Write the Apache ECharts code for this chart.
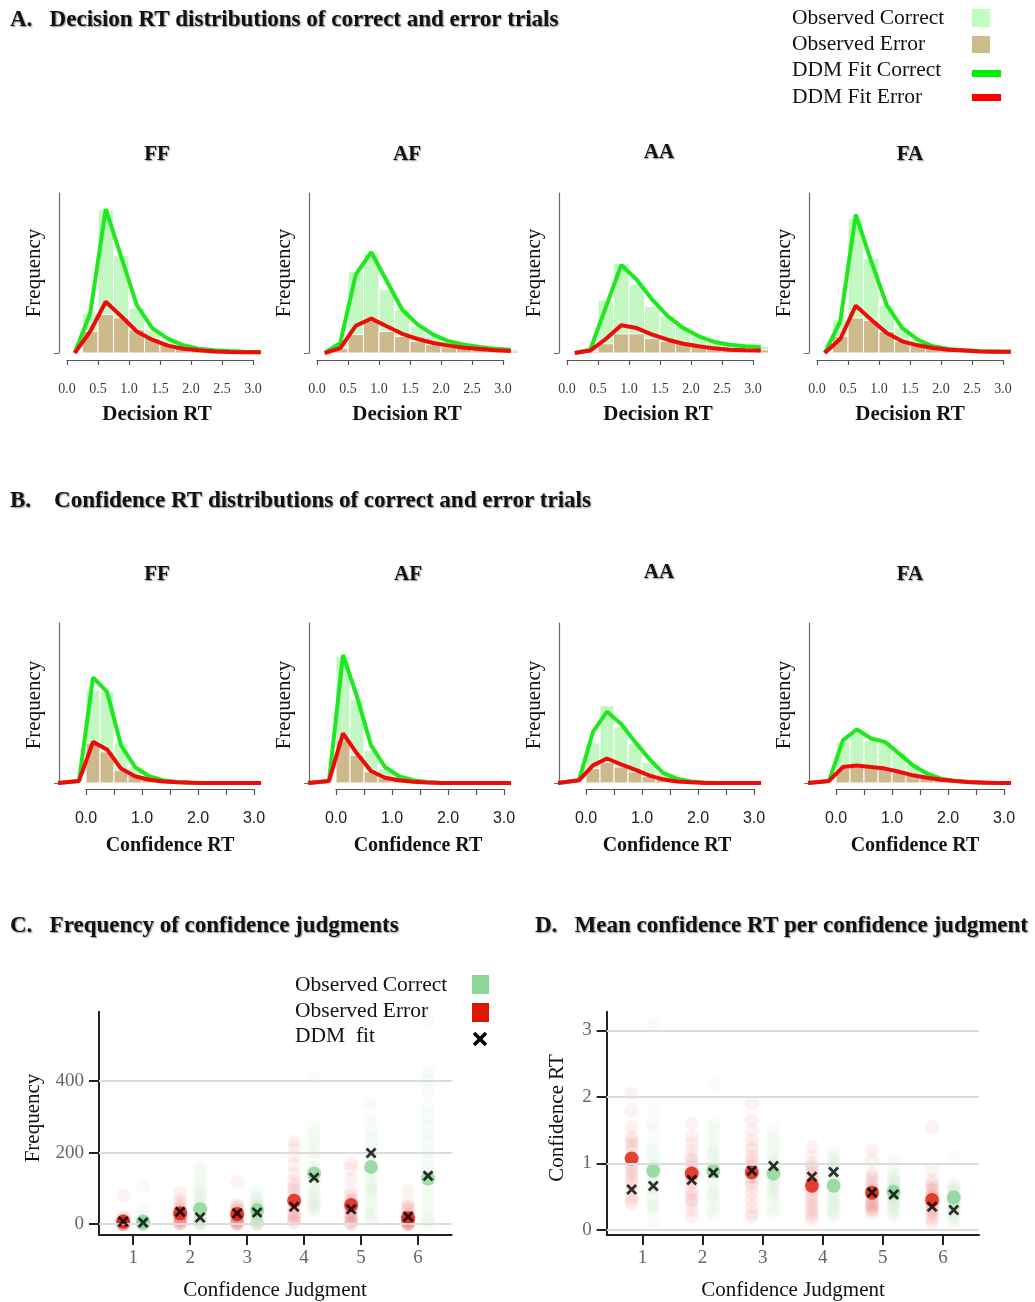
<!DOCTYPE html>
<html><head><meta charset="utf-8">
<script src="https://cdn.jsdelivr.net/npm/echarts@6/dist/echarts.min.js"></script>
<style>html,body{margin:0;padding:0;background:#fff}#c{width:1035px;height:1302px}</style>
</head><body><div id="c"></div><script>
// ---------- categories / ticks ----------
const conditions = ['FF', 'AF', 'AA', 'FA'];
const binEdges = [0, 0.25, 0.5, 0.75, 1, 1.25, 1.5, 1.75, 2, 2.25, 2.5, 2.75, 3, 3.25];
const decFitX = [0.125, 0.375, 0.625, 0.875, 1.125, 1.375, 1.625, 1.875, 2.125, 2.375, 2.625, 2.875, 3.125];
const confFitX = [-0.5, -0.125, 0.125, 0.375, 0.625, 0.875, 1.125, 1.375, 1.625, 1.875, 2.125, 2.375, 2.625, 2.875, 3.125];
const rtTicks = [0, 0.5, 1, 1.5, 2, 2.5, 3];
const judgments = [1, 2, 3, 4, 5, 6];
const freqTicks = [0, 200, 400];
const confRtTicks = [0, 1, 2, 3];

// ---------- A: decision RT (relative frequency) ----------
const decObsCorrect_FF = [1, 25, 89.6, 60.8, 28, 14.6, 8, 4.5, 2.5, 1.5, 1, 0.5, 0.3];
const decObsError_FF   = [0.5, 13.5, 24, 22, 14.6, 9, 5, 3, 2, 1, 0.5, 0.3, 0.2];
const decFitCorrect_FF = [0, 25, 90, 60, 30, 15.6, 9, 4.8, 2.7, 1.7, 1.2, 0.8, 0.5];
const decFitError_FF   = [0, 13.5, 32, 23, 13.5, 8.3, 4.6, 2.7, 1.7, 1, 0.7, 0.5, 0.4];

const decObsCorrect_AF = [0.5, 5.8, 51, 62.5, 39.6, 27, 16.7, 10.4, 7.3, 5.2, 4.2, 3.1, 2];
const decObsError_AF   = [0.3, 3, 11.5, 19.8, 13.5, 10.4, 7.3, 5.2, 3.75, 2.9, 2, 1.7, 1.2];
const decFitCorrect_AF = [0, 6.25, 49, 63, 45, 27, 17.7, 11.5, 7.3, 5.2, 3.75, 2.7, 2];
const decFitError_AF   = [0, 3, 17, 21.5, 16.7, 12, 8.75, 6.25, 4.6, 3.3, 2.5, 1.7, 1.25];

const decObsCorrect_AA = [0.3, 2, 33, 56, 43, 29, 23, 16, 10.4, 7.3, 5.8, 4.6, 4.2];
const decObsError_AA   = [0.2, 1, 5.8, 12, 12, 9, 7.3, 5.8, 4.6, 3.75, 2.9, 2.5, 2];
const decFitCorrect_AA = [0, 2, 28.5, 55, 45.8, 33.3, 23, 15.6, 10.4, 6.9, 5.2, 4.2, 3.75];
const decFitError_AA   = [0, 1.5, 8.75, 17.3, 15.6, 11.5, 8.3, 5.8, 4.2, 2.9, 2, 1.7, 1.5];

const decObsCorrect_FA = [0.5, 20.8, 84, 59, 30, 15.6, 8.75, 5.2, 3.1, 2, 1.5, 1, 0.8];
const decObsError_FA   = [0.3, 10.4, 21.9, 20.4, 13.5, 7.3, 4.6, 3.1, 2, 1.5, 1, 0.8, 0.6];
const decFitCorrect_FA = [0, 19.8, 86.5, 57.3, 30, 15.6, 8.3, 4.2, 2.5, 1.7, 1.2, 1, 0.8];
const decFitError_FA   = [0, 8.75, 29.6, 20.8, 12.5, 7.3, 4.8, 3.1, 2, 1.5, 1, 0.8, 0.8];

// ---------- B: confidence RT (relative frequency) ----------
const confObsCorrect_FF = [58, 57, 24.7, 10, 4.8, 2, 1, 0.5, 0.3, 0.2, 0.1, 0.1, 0.1];
const confObsError_FF   = [25, 19.5, 8, 4.8, 2.7, 1.7, 1, 0.5, 0.3, 0.2, 0.1, 0.1, 0.1];
const confFitCorrect_FF = [0, 1.3, 66, 57, 23.6, 10, 4.2, 1.7, 0.6, 0.3, 0, 0, 0, 0, 0];
const confFitError_FF   = [0, 1.3, 25.7, 21, 9, 4.2, 2, 1, 0.5, 0.2, 0, 0, 0, 0, 0];

const confObsCorrect_AF = [79, 52, 20.5, 9, 3.8, 1.7, 0.8, 0.3, 0.2, 0.1, 0.1, 0.1, 0.1];
const confObsError_AF   = [26.8, 17.4, 7, 3.3, 1.7, 0.8, 0.4, 0.2, 0.1, 0.1, 0.1, 0.1, 0.1];
const confFitCorrect_AF = [0, 1.3, 80, 54, 23.6, 10, 4.2, 1.7, 0.6, 0.2, 0, 0, 0, 0, 0];
const confFitError_AF   = [0, 1.3, 31, 18.4, 7.5, 3.3, 1.7, 0.8, 0.3, 0, 0, 0, 0, 0, 0];

const confObsCorrect_AA = [25, 48.3, 35, 24.7, 13, 5.9, 2.7, 1.3, 0.5, 0.3, 0.2, 0.1, 0.1];
const confObsError_AA   = [9, 13, 10, 7, 4.2, 2.3, 1.3, 0.5, 0.3, 0.2, 0.1, 0.1, 0.1];
const confFitCorrect_AA = [0, 1.7, 32, 44.6, 37, 25.7, 15.3, 6.3, 2.7, 1, 0.3, 0, 0, 0, 0];
const confFitError_AA   = [0, 1.7, 11, 15.3, 11.7, 8.4, 4.8, 2.3, 1, 0.4, 0, 0, 0, 0, 0];

const confObsCorrect_FA = [25.7, 31, 26.8, 25.7, 19.5, 12, 7, 3.3, 1.7, 0.8, 0.3, 0.2, 0.1];
const confObsError_FA   = [9, 10, 9.6, 8.4, 6.5, 4.8, 3.3, 2.3, 1.3, 0.6, 0.3, 0.2, 0.1];
const confFitCorrect_FA = [0, 1.3, 26.8, 33.5, 27.8, 25.7, 18.4, 11, 5.9, 2.7, 1.3, 0.5, 0, 0, 0];
const confFitError_FA   = [0, 1.3, 10, 11, 10, 9, 7, 4.8, 3.3, 2, 1.3, 0.6, 0.3, 0, 0];

// ---------- C: frequency of confidence judgments ----------
const freqMeanCorrect = [7, 41.7, 39.8, 141.7, 160, 127.8];
const freqMeanError   = [7.4, 30.5, 28.7, 65.7, 53.7, 16.7];
const freqFitCorrect  = [4.6, 18.5, 33, 130, 199, 135];
const freqFitError    = [7.4, 35, 30.5, 49, 41.7, 21.3];
const freqSubjError_1 = [80, 20, 15, 10, 8, 5, 3, 2, 0, 0, 1, 4, 12, 6, 0, 2, 9, 3, 0, 1];
const freqSubjError_2 = [85, 70, 60, 50, 45, 40, 35, 30, 28, 25, 20, 18, 15, 12, 10, 8, 5, 3, 2, 0];
const freqSubjError_3 = [118, 55, 50, 45, 40, 35, 30, 28, 25, 22, 20, 15, 12, 10, 8, 5, 3, 2, 0, 0];
const freqSubjError_4 = [230, 215, 190, 165, 140, 120, 110, 100, 90, 80, 70, 60, 50, 40, 30, 25, 20, 15, 10, 5];
const freqSubjError_5 = [170, 155, 125, 90, 80, 70, 65, 60, 50, 45, 40, 35, 30, 25, 20, 15, 10, 5, 2, 0];
const freqSubjError_6 = [95, 60, 50, 45, 40, 30, 25, 20, 18, 15, 12, 10, 8, 5, 3, 2, 0, 0, 1, 4];
const freqSubjCorrect_1 = [105, 40, 20, 10, 5, 2, 0, 0, 1, 3, 8, 4, 0, 2, 6, 1, 0, 12, 3, 0];
const freqSubjCorrect_2 = [160, 140, 120, 100, 90, 80, 70, 60, 50, 45, 40, 30, 25, 20, 15, 10, 5, 2, 0, 0];
const freqSubjCorrect_3 = [95, 80, 70, 60, 55, 50, 45, 40, 35, 30, 25, 20, 15, 10, 8, 5, 3, 0, 0, 0];
const freqSubjCorrect_4 = [410, 275, 255, 235, 220, 200, 180, 160, 150, 140, 130, 120, 100, 90, 80, 70, 60, 50, 45, 40];
const freqSubjCorrect_5 = [335, 290, 260, 240, 220, 200, 180, 160, 150, 140, 120, 110, 100, 90, 80, 60, 45, 30, 20, 10];
const freqSubjCorrect_6 = [565, 425, 400, 370, 330, 300, 270, 250, 230, 200, 180, 150, 120, 100, 80, 60, 40, 20, 10, 0];

// ---------- D: mean confidence RT per judgment ----------
const rtMeanCorrect = [0.89, 0.89, 0.85, 0.665, 0.575, 0.49];
const rtMeanError   = [1.075, 0.85, 0.865, 0.665, 0.56, 0.45];
const rtFitCorrect  = [0.66, 0.86, 0.96, 0.87, 0.535, 0.3];
const rtFitError    = [0.61, 0.75, 0.89, 0.8, 0.565, 0.35];
const rtSubjError_1 = [2.05, 1.8, 1.55, 1.4, 1.3, 1.2, 1.1, 1.0, 0.95, 0.9, 0.8, 0.7, 0.6, 0.5, 0.4, 1.35, 1.25, 0.85, 0.75, 0.45];
const rtSubjError_2 = [1.6, 1.4, 1.3, 1.2, 1.1, 1.0, 0.95, 0.9, 0.85, 0.8, 0.7, 0.6, 0.5, 0.45, 0.4, 0.3, 0.2, 0.75, 1.05, 0.55];
const rtSubjError_3 = [1.9, 1.65, 1.5, 1.35, 1.2, 1.1, 1.05, 1.0, 0.95, 0.9, 0.8, 0.7, 0.65, 0.55, 0.45, 0.35, 0.25, 0.2, 1.25, 0.75];
const rtSubjError_4 = [1.25, 1.1, 1.0, 0.95, 0.9, 0.85, 0.8, 0.75, 0.7, 0.65, 0.6, 0.55, 0.5, 0.45, 0.4, 0.35, 0.3, 0.25, 0.2, 0.15];
const rtSubjError_5 = [1.2, 1.05, 0.85, 0.8, 0.75, 0.7, 0.65, 0.6, 0.55, 0.5, 0.5, 0.45, 0.4, 0.4, 0.35, 0.35, 0.3, 0.3, 0.25, 0.6];
const rtSubjError_6 = [1.55, 0.9, 0.75, 0.7, 0.65, 0.6, 0.55, 0.5, 0.45, 0.4, 0.35, 0.3, 0.25, 0.2, 0.15, 0.1, 0.5, 0.4, 0.3, 0.6];
const rtSubjCorrect_1 = [3.1, 1.8, 1.6, 1.5, 1.3, 1.1, 1.0, 0.9, 0.8, 0.7, 0.6, 0.5, 0.4, 0.3, 0.1, 0.95, 0.85, 1.2, 0.65, 0.35];
const rtSubjCorrect_2 = [2.2, 1.6, 1.5, 1.4, 1.3, 1.2, 1.1, 1.0, 0.9, 0.8, 0.7, 0.6, 0.5, 0.4, 0.3, 0.25, 0.95, 0.85, 1.15, 0.55];
const rtSubjCorrect_3 = [1.5, 1.4, 1.3, 1.2, 1.1, 1.0, 0.9, 0.85, 0.8, 0.75, 0.7, 0.6, 0.5, 0.4, 0.3, 0.25, 0.95, 1.05, 0.65, 0.55];
const rtSubjCorrect_4 = [1.2, 1.1, 1.0, 0.95, 0.9, 0.8, 0.75, 0.7, 0.65, 0.6, 0.55, 0.5, 0.45, 0.4, 0.35, 0.3, 0.25, 0.2, 0.85, 1.05];
const rtSubjCorrect_5 = [1.05, 0.95, 0.85, 0.8, 0.75, 0.7, 0.65, 0.6, 0.55, 0.5, 0.45, 0.4, 0.35, 0.3, 0.25, 0.2, 0.6, 0.5, 0.7, 0.4];
const rtSubjCorrect_6 = [1.1, 0.7, 0.65, 0.6, 0.55, 0.5, 0.45, 0.4, 0.35, 0.3, 0.25, 0.2, 0.15, 0.1, 0.6, 0.5, 0.4, 0.3, 0.35, 0.45];

// ---------- build ----------
const SERIF = '"Liberation Serif","Times New Roman",serif';
const SANS = '"Liberation Sans",Arial,sans-serif';
const C_BAR_OK = '#c3f8c3', C_BAR_ERR = '#ccb98c', C_LINE_OK = '#1ee81e', C_LINE_ERR = '#f00a0a';
const C_DOT_OK = '#88d596', C_DOT_ERR = '#dc1a0a';

const grids = [], xAxes = [], yAxes = [], series = [], graphics = [];
function addGrid(g, xa, ya) {
  const i = grids.length;
  grids.push(g);
  xAxes.push(Object.assign({ gridIndex: i }, xa));
  yAxes.push(Object.assign({ gridIndex: i }, ya));
  return i;
}
function txt(text, x, y, font, opt) {
  opt = opt || {};
  const st = { text: text, font: font, fill: opt.fill || '#111',
    align: opt.align || 'center', verticalAlign: 'middle',
    textAlign: opt.align || 'center', textVerticalAlign: 'middle' };
  if (opt.shadow) {
    st.textShadowColor = 'rgba(0,0,0,0.45)'; st.textShadowBlur = 1.5;
    st.textShadowOffsetX = 1; st.textShadowOffsetY = 1;
  }
  const el = { type: 'text', x: x, y: y, silent: true, z: 100, style: st };
  if (opt.rotation != null) el.rotation = opt.rotation;
  return el;
}
function rectRender(color) {
  return function (params, api) {
    const p0 = api.coord([api.value(0), api.value(2)]);
    const p1 = api.coord([api.value(1), 0]);
    return { type: 'rect', shape: { x: p0[0], y: p0[1], width: p1[0] - p0[0], height: p1[1] - p0[1] },
      style: { fill: color, stroke: '#ffffff', lineWidth: 1 } };
  };
}

const decSets = {
  FF: [decObsCorrect_FF, decObsError_FF, decFitCorrect_FF, decFitError_FF],
  AF: [decObsCorrect_AF, decObsError_AF, decFitCorrect_AF, decFitError_AF],
  AA: [decObsCorrect_AA, decObsError_AA, decFitCorrect_AA, decFitError_AA],
  FA: [decObsCorrect_FA, decObsError_FA, decFitCorrect_FA, decFitError_FA]
};
const confSets = {
  FF: [confObsCorrect_FF, confObsError_FF, confFitCorrect_FF, confFitError_FF],
  AF: [confObsCorrect_AF, confObsError_AF, confFitCorrect_AF, confFitError_AF],
  AA: [confObsCorrect_AA, confObsError_AA, confFitCorrect_AA, confFitError_AA],
  FA: [confObsCorrect_FA, confObsError_FA, confFitCorrect_FA, confFitError_FA]
};

const colOffset = [0, 250, 500, 750];
const sections = [
  { sets: decSets, fitX: decFitX, zero: 67, ppu: 62, xmin: -0.13, top: 193, axisY: 360,
    labelFont: SERIF, labelSize: 14, labelColor: '#3a3a3a', tickLen: 5,
    labelFmt: v => v.toFixed(1), title: 'Decision RT', titleY: 415, titleX: [157, 407, 658, 910],
    titleFont: 'bold 21px ' + SERIF, panelX: [157, 407, 659, 910], panelY: [155, 155, 153, 155], freqY: 273 },
  { sets: confSets, fitX: confFitX, zero: 86, ppu: 56, xmin: -0.48, top: 623, axisY: 789,
    labelFont: SANS, labelSize: 16, labelColor: '#222', tickLen: 6,
    labelFmt: v => (Math.abs(v - Math.round(v)) < 1e-9 ? v.toFixed(1) : ''), title: 'Confidence RT', titleY: 846,
    titleX: [170, 418, 667, 915], titleFont: 'bold 20px ' + SERIF, panelX: [157, 408, 659, 910], panelY: [575, 575, 573, 575], freqY: 705 }
];

sections.forEach(function (sec) {
  conditions.forEach(function (cond, i) {
    const off = colOffset[i];
    const zeroPx = sec.zero + off;
    const left = zeroPx + sec.xmin * sec.ppu;
    const gi = addGrid(
      { left: left, top: sec.top, width: (3.2 - sec.xmin) * sec.ppu, height: 160 },
      { type: 'value', min: sec.xmin, max: 3.2, show: false },
      { type: 'value', min: 0, max: 100,
        axisLine: { show: true, onZero: false, lineStyle: { color: '#6a6a6a', width: 1.2 } },
        axisTick: { show: true, customValues: [0], length: 5, lineStyle: { color: '#6a6a6a' } },
        axisLabel: { show: false }, splitLine: { show: false } });
    const s = sec.sets[cond];
    series.push({ type: 'custom', xAxisIndex: gi, yAxisIndex: gi, silent: true, z: 1,
      renderItem: rectRender(C_BAR_OK), encode: { x: [0, 1], y: 2 },
      data: s[0].map((v, k) => [binEdges[k], binEdges[k + 1], v]) });
    series.push({ type: 'custom', xAxisIndex: gi, yAxisIndex: gi, silent: true, z: 2,
      renderItem: rectRender(C_BAR_ERR), encode: { x: [0, 1], y: 2 },
      data: s[1].map((v, k) => [binEdges[k], binEdges[k + 1], v]) });
    series.push({ type: 'line', xAxisIndex: gi, yAxisIndex: gi, silent: true, z: 3, clip: false,
      symbol: 'none', lineStyle: { color: C_LINE_OK, width: 4 },
      data: sec.fitX.map((x, k) => [x, s[2][k]]) });
    series.push({ type: 'line', xAxisIndex: gi, yAxisIndex: gi, silent: true, z: 4, clip: false,
      symbol: 'none', lineStyle: { color: C_LINE_ERR, width: 4 },
      data: sec.fitX.map((x, k) => [x, s[3][k]]) });
    // separate R-style x axis spanning 0..3
    addGrid({ left: zeroPx, top: sec.axisY - 10, width: 3 * sec.ppu, height: 10 },
      { type: 'value', min: 0, max: 3, interval: 0.5, position: 'bottom',
        axisLine: { show: true, onZero: false, lineStyle: { color: '#555', width: 1.2 } },
        axisTick: { show: true, length: sec.tickLen, lineStyle: { color: '#555', width: 1.2 } },
        axisLabel: { show: true, margin: 22, fontFamily: sec.labelFont, fontSize: sec.labelSize,
          color: sec.labelColor, formatter: sec.labelFmt, showMinLabel: true, showMaxLabel: true },
        splitLine: { show: false } },
      { type: 'value', min: 0, max: 1, show: false });
    graphics.push(txt(cond, sec.panelX[i], sec.panelY[i], 'bold 21px ' + SERIF, { shadow: true }));
    graphics.push(txt(sec.title, sec.titleX[i], sec.titleY, sec.titleFont));
    graphics.push(txt('Frequency', 34 + off, sec.freqY, '21px ' + SERIF, { rotation: Math.PI / 2 }));
  });
});

// ---------- C / D ----------
const dodge = 0.175;
function pts(xs, ys, d) { return ys.map((y, k) => [xs[k] + d, y]); }
function subj(lists, d) {
  const out = [];
  lists.forEach((arr, k) => arr.forEach(v => out.push([judgments[k] + d, v])));
  return out;
}
const XSYM = 'path://M0,1.8 L1.8,0 L5,3.2 L8.2,0 L10,1.8 L6.8,5 L10,8.2 L8.2,10 L5,6.8 L1.8,10 L0,8.2 L3.2,5 Z';

function scatterPanel(g, xr, yr, ticksY, dataSets) {
  const gi = addGrid(g,
    { type: 'value', min: xr[0], max: xr[1],
      axisLine: { show: true, onZero: false, lineStyle: { color: '#222', width: 2 } },
      axisTick: { show: true, customValues: judgments, length: 10, lineStyle: { color: '#222', width: 2 } },
      axisLabel: { show: true, customValues: judgments, margin: 14, fontFamily: SERIF, fontSize: 19, color: '#666' },
      splitLine: { show: false } },
    { type: 'value', min: yr[0], max: yr[1],
      axisLine: { show: true, onZero: false, lineStyle: { color: '#222', width: 2 } },
      axisTick: { show: true, customValues: ticksY, length: 10, lineStyle: { color: '#222', width: 2 } },
      axisLabel: { show: true, customValues: ticksY, margin: 15, fontFamily: SERIF, fontSize: 19, color: '#666' },
      splitLine: { show: false } });
  series.push({ type: 'scatter', xAxisIndex: gi, yAxisIndex: gi, silent: true, z: 1, symbolSize: 14,
    itemStyle: { color: 'rgba(225,40,30,0.075)' }, data: dataSets.subjErr,
    markLine: { silent: true, symbol: 'none', label: { show: false }, animation: false,
      lineStyle: { color: '#dcdcdc', width: 2, type: 'solid' },
      data: ticksY.map(v => ({ yAxis: v })) } });
  series.push({ type: 'scatter', xAxisIndex: gi, yAxisIndex: gi, silent: true, z: 1, symbolSize: 14,
    itemStyle: { color: 'rgba(120,205,135,0.07)' }, data: dataSets.subjOk });
  series.push({ type: 'scatter', xAxisIndex: gi, yAxisIndex: gi, silent: true, z: 3, symbolSize: 14,
    itemStyle: { color: C_DOT_ERR }, data: dataSets.meanErr });
  series.push({ type: 'scatter', xAxisIndex: gi, yAxisIndex: gi, silent: true, z: 3, symbolSize: 14,
    itemStyle: { color: C_DOT_OK }, data: dataSets.meanOk });
  series.push({ type: 'scatter', xAxisIndex: gi, yAxisIndex: gi, silent: true, z: 5, symbol: XSYM, symbolSize: 11,
    itemStyle: { color: '#000' }, data: dataSets.fit });
}

scatterPanel({ left: 99, top: 1011.7, width: 352.7, height: 223.3 }, [0.4, 6.59], [-30, 593], freqTicks, {
  subjErr: subj([freqSubjError_1, freqSubjError_2, freqSubjError_3, freqSubjError_4, freqSubjError_5, freqSubjError_6], -dodge),
  subjOk: subj([freqSubjCorrect_1, freqSubjCorrect_2, freqSubjCorrect_3, freqSubjCorrect_4, freqSubjCorrect_5, freqSubjCorrect_6], dodge),
  meanErr: pts(judgments, freqMeanError, -dodge),
  meanOk: pts(judgments, freqMeanCorrect, dodge),
  fit: pts(judgments, freqFitError, -dodge).concat(pts(judgments, freqFitCorrect, dodge))
});
scatterPanel({ left: 606.7, top: 1011.7, width: 372.3, height: 223.3 }, [0.405, 6.6], [-0.075, 3.28], confRtTicks, {
  subjErr: subj([rtSubjError_1, rtSubjError_2, rtSubjError_3, rtSubjError_4, rtSubjError_5, rtSubjError_6], -0.18),
  subjOk: subj([rtSubjCorrect_1, rtSubjCorrect_2, rtSubjCorrect_3, rtSubjCorrect_4, rtSubjCorrect_5, rtSubjCorrect_6], 0.18),
  meanErr: pts(judgments, rtMeanError, -0.18),
  meanOk: pts(judgments, rtMeanCorrect, 0.18),
  fit: pts(judgments, rtFitError, -0.18).concat(pts(judgments, rtFitCorrect, 0.18))
});

// ---------- static texts ----------
const TFONT = 'bold 23px ' + SERIF;
graphics.push(txt('A.   Decision RT distributions of correct and error trials', 10, 20, TFONT, { align: 'left', shadow: true }));
graphics.push(txt('B.    Confidence RT distributions of correct and error trials', 10, 501, TFONT, { align: 'left', shadow: true }));
graphics.push(txt('C.   Frequency of confidence judgments', 10, 926, TFONT, { align: 'left', shadow: true }));
graphics.push(txt('D.   Mean confidence RT per confidence judgment', 535, 926, TFONT, { align: 'left', shadow: true }));
graphics.push(txt('Frequency', 33, 1118, '21px ' + SERIF, { rotation: Math.PI / 2 }));
graphics.push(txt('Confidence Judgment', 275, 1290, '21px ' + SERIF));
graphics.push(txt('Confidence RT', 557, 1118, '21px ' + SERIF, { rotation: Math.PI / 2 }));
graphics.push(txt('Confidence Judgment', 793, 1290, '21px ' + SERIF));

// legend A
const LF = '21.5px ' + SERIF;
graphics.push(txt('Observed Correct', 792, 18, LF, { align: 'left' }));
graphics.push(txt('Observed Error', 792, 44, LF, { align: 'left' }));
graphics.push(txt('DDM Fit Correct', 792, 70, LF, { align: 'left' }));
graphics.push(txt('DDM Fit Error', 792, 97, LF, { align: 'left' }));
graphics.push({ type: 'rect', silent: true, shape: { x: 972, y: 9, width: 18, height: 18 }, style: { fill: '#c1fcc1' } });
graphics.push({ type: 'rect', silent: true, shape: { x: 972, y: 36, width: 18, height: 17 }, style: { fill: '#cdbb8b' } });
graphics.push({ type: 'rect', silent: true, shape: { x: 972, y: 70, width: 29, height: 7 }, style: { fill: '#00f000' } });
graphics.push({ type: 'rect', silent: true, shape: { x: 972, y: 94, width: 29, height: 7 }, style: { fill: '#ff0000' } });

// legend C
const LC = '21.5px ' + SERIF;
graphics.push(txt('Observed Correct', 295, 985, LC, { align: 'left' }));
graphics.push(txt('Observed Error', 295, 1011, LC, { align: 'left' }));
graphics.push(txt('DDM  fit', 295, 1036, LC, { align: 'left' }));
graphics.push({ type: 'rect', silent: true, shape: { x: 472, y: 975, width: 17, height: 19 }, style: { fill: '#8cd698' } });
graphics.push({ type: 'rect', silent: true, shape: { x: 472, y: 1003, width: 17, height: 19 }, style: { fill: '#dd1800' } });
graphics.push({ type: 'line', silent: true, shape: { x1: 474, y1: 1033, x2: 486, y2: 1045 }, style: { stroke: '#000', lineWidth: 3.5 } });
graphics.push({ type: 'line', silent: true, shape: { x1: 486, y1: 1033, x2: 474, y2: 1045 }, style: { stroke: '#000', lineWidth: 3.5 } });

const chart = echarts.init(document.getElementById('c'), null, { renderer: 'canvas' });
chart.setOption({
  animation: false,
  backgroundColor: '#ffffff',
  grid: grids,
  xAxis: xAxes,
  yAxis: yAxes,
  series: series,
  graphic: { elements: graphics }
});
</script></body></html>
